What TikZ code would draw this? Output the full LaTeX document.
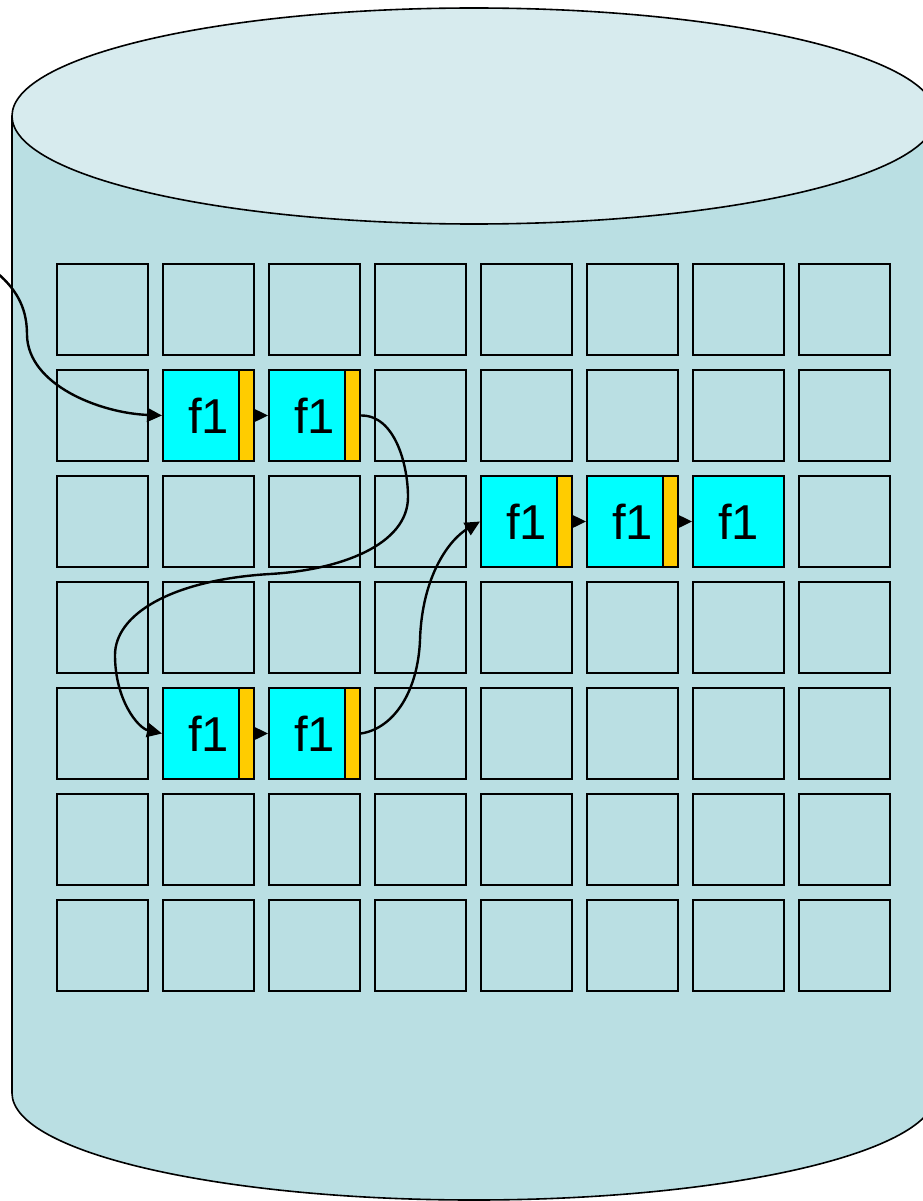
\documentclass[tikz,border=0pt]{standalone}
\usepackage{fontspec}
\setmainfont{Liberation Sans}
\usetikzlibrary{arrows.meta}
\definecolor{bodyblue}{RGB}{186,223,227}
\definecolor{topblue}{RGB}{215,235,238}
\definecolor{barorange}{RGB}{255,204,0}
\definecolor{cellcyan}{RGB}{0,255,255}
\begin{document}
\begin{tikzpicture}[x=1pt,y=-1pt,
  cell/.style={draw=black, line width=2pt, minimum width=91pt, minimum height=91pt, inner sep=0pt},
  fcell/.style={cell, fill=cellcyan, font=\fontsize{49}{49}\selectfont},
  bar/.style={draw=black, line width=2pt, fill=barorange, minimum width=15pt, minimum height=91pt, inner sep=0pt, anchor=east},
  link/.style={draw=black, line width=2.4pt, -{Triangle[length=15pt,width=14pt]}},
  rim/.style={draw=black, line width=1.6pt}]
\useasboundingbox (0,0) rectangle (922,1201);
% cylinder body
\fill[bodyblue] (12,116) -- (12,1093) arc[start angle=180, end angle=360, x radius=462pt, y radius=107pt] -- (936,116) -- cycle;
\draw[rim] (12,116) -- (12,1093) arc[start angle=180, end angle=360, x radius=462pt, y radius=107pt] -- (936,116);
% top
\filldraw[rim, fill=topblue] (474,116) ellipse[x radius=462pt, y radius=108pt];
% mark the f1 cells
\foreach \p in {1-1,1-2,2-4,2-5,2-6,4-1,4-2} {\expandafter\xdef\csname isf\p\endcsname{1}}
% grid
\foreach \r in {0,...,6} {
  \foreach \c in {0,...,7} {
    \ifcsname isf\r-\c\endcsname
      \node[fcell] (c-\r-\c) at ({102.5+106*\c},{309.5+106*\r}) {f1};
    \else
      \node[cell] (c-\r-\c) at ({102.5+106*\c},{309.5+106*\r}) {};
    \fi
  }
}
% pointer bars
\foreach \p in {1-1,1-2,2-4,2-5,4-1,4-2} {\node[bar] (p-\p) at (c-\p.east) {};}
% short links
\draw[link] (p-1-1.east) -- (c-1-2.west);
\draw[link] (p-2-4.east) -- (c-2-5.west);
\draw[link] (p-2-5.east) -- (c-2-6.west);
\draw[link] (p-4-1.east) -- (c-4-2.west);
% entry curve
\coordinate (in0) at (-4,272);
\draw[link] (in0) .. controls (20,292) and (27,312) .. (27,335)
  .. controls (28,385) and (100,413) .. (c-1-1.west);
% curve row1 -> row4
\draw[link] (p-1-2.east) .. controls (395,415) and (408,465) .. (408,497)
  .. controls (408,545) and (340,570) .. (270,574)
  .. controls (170,580) and (115,615) .. (115,655)
  .. controls (115,700) and (138,728) .. (c-4-1.west);
% curve row4 -> row2
\draw[link] (p-4-2.east) .. controls (395,728) and (418,690) .. (420,640)
  .. controls (422,575) and (450,539) .. (c-2-4.west);
\end{tikzpicture}
\end{document}
